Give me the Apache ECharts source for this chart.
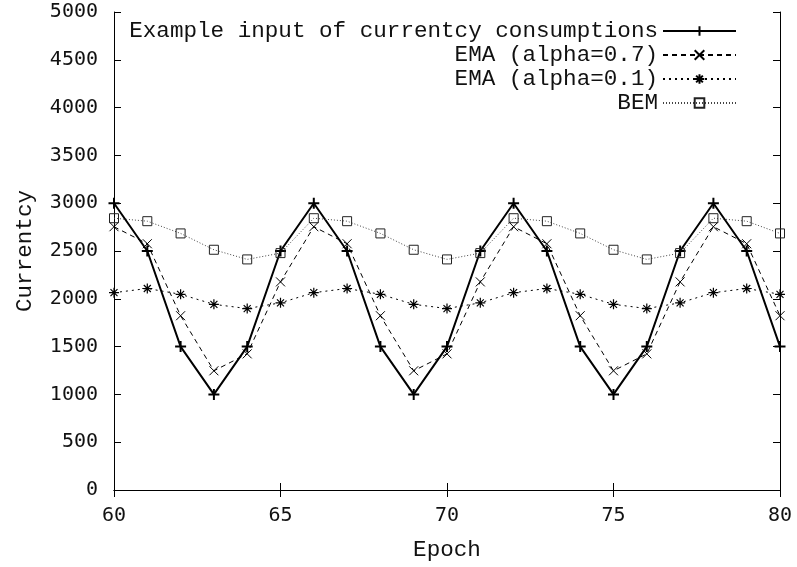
<!DOCTYPE html>
<html>
<head>
<meta charset="utf-8">
<title>Currentcy consumption smoothing</title>
<script src="https://cdn.jsdelivr.net/npm/echarts@6/dist/echarts.min.js"></script>
<style>
  html, body { margin: 0; padding: 0; background: #fff; }
  #chart { width: 797px; height: 567px; }
</style>
</head>
<body>
<div id="chart"></div>
<script>
// Epochs shown on the x axis
const epochs = [60, 61, 62, 63, 64, 65, 66, 67, 68, 69, 70, 71, 72, 73, 74, 75, 76, 77, 78, 79, 80];

// Raw currentcy consumption per epoch
const inputValues = [3000, 2500, 1500, 1000, 1500, 2500, 3000, 2500, 1500, 1000, 1500,
                     2500, 3000, 2500, 1500, 1000, 1500, 2500, 3000, 2500, 1500];

// Exponential moving average, alpha = 0.7
const ema07Values = [2754, 2576, 1823, 1247, 1424, 2177, 2754, 2576, 1823, 1247, 1424,
                     2177, 2754, 2576, 1823, 1247, 1424, 2177, 2754, 2576, 1823];

// Exponential moving average, alpha = 0.1
const ema01Values = [2064, 2108, 2047, 1942, 1898, 1958, 2064, 2108, 2047, 1942, 1898,
                     1958, 2064, 2108, 2047, 1942, 1898, 1958, 2064, 2108, 2047];

// BEM estimate
const bemValues = [2843, 2812, 2684, 2513, 2412, 2478, 2843, 2812, 2684, 2513, 2412,
                   2478, 2843, 2812, 2684, 2513, 2412, 2478, 2843, 2812, 2684];

const seriesNames = [
  'Example input of currentcy consumptions',
  'EMA (alpha=0.7)',
  'EMA (alpha=0.1)',
  'BEM'
];

const monoFont = '"Liberation Mono", "Courier New", monospace';
const tickFont = '"DejaVu Sans Mono", monospace';

// Stroked point glyphs
const SYM_PLUS = 'path://M0,5L10,5M5,0L5,10';
const SYM_CROSS = 'path://M0,0L10,10M10,0L0,10';
const SYM_STAR = 'path://M0,5L10,5M5,0L5,10M1.5,1.5L8.5,8.5M8.5,1.5L1.5,8.5';
const SYM_SQUARE = 'path://M0,0L10,0L10,10L0,10Z';

function pairs(values) {
  return epochs.map((e, i) => [e, values[i]]);
}

function lineSeries(name, values, symbol, size, lineStyle, markColor, markWidth) {
  return {
    name: name,
    type: 'line',
    data: pairs(values),
    symbol: symbol,
    symbolSize: size,
    showAllSymbol: true,
    animation: false,
    lineStyle: lineStyle,
    itemStyle: {
      color: 'rgba(0,0,0,0)',
      borderColor: markColor,
      borderWidth: markWidth
    },
    emphasis: { disabled: true }
  };
}

const axisCommon = {
  type: 'value',
  axisLine: { show: true, lineStyle: { color: '#000', width: 1 } },
  axisTick: { show: true, inside: true, length: 7, lineStyle: { color: '#000', width: 1 } },
  splitLine: { show: false }
};

const plainNumber = v => String(v);

const chart = echarts.init(document.getElementById('chart'), null, { renderer: 'canvas' });

chart.setOption({
  backgroundColor: '#fff',
  animation: false,
  grid: { left: 114, right: 17, top: 12, bottom: 76, containLabel: false },
  legend: {
    data: seriesNames,
    orient: 'vertical',
    align: 'right',
    right: 60,
    top: 19,
    padding: 0,
    itemWidth: 73,
    itemHeight: 12,
    itemGap: 0,
    selectedMode: false,
    textStyle: { fontFamily: monoFont, fontSize: 22.6, color: '#111', lineHeight: 24 }
  },
  xAxis: [
    Object.assign({}, axisCommon, {
      min: 60, max: 80, interval: 5,
      position: 'bottom',
      name: 'Epoch',
      nameLocation: 'middle',
      nameGap: 49,
      nameTextStyle: { fontFamily: monoFont, fontSize: 22.6, color: '#111' },
      axisLabel: { show: true, margin: 16, fontFamily: tickFont, fontSize: 20, color: '#111', formatter: plainNumber }
    }),
    Object.assign({}, axisCommon, {
      min: 60, max: 80, interval: 5,
      position: 'top',
      axisLabel: { show: false }
    })
  ],
  yAxis: [
    Object.assign({}, axisCommon, {
      min: 0, max: 5000, interval: 500,
      position: 'left',
      name: 'Currentcy',
      nameLocation: 'middle',
      nameGap: 77,
      nameRotate: 90,
      nameTextStyle: { fontFamily: monoFont, fontSize: 22.6, color: '#111' },
      axisLabel: { show: true, margin: 16, fontFamily: tickFont, fontSize: 20, color: '#111', formatter: plainNumber }
    }),
    Object.assign({}, axisCommon, {
      min: 0, max: 5000, interval: 500,
      position: 'right',
      axisLabel: { show: false }
    })
  ],
  series: [
    lineSeries(seriesNames[0], inputValues, SYM_PLUS, 11,
      { color: '#000', width: 2, type: 'solid' }, '#000', 2),
    lineSeries(seriesNames[1], ema07Values, SYM_CROSS, 9,
      { color: '#000', width: 1, type: [5, 4] }, '#000', 1),
    lineSeries(seriesNames[2], ema01Values, SYM_STAR, 10,
      { color: '#000', width: 1, type: [2, 4] }, '#000', 1.2),
    lineSeries(seriesNames[3], bemValues, SYM_SQUARE, 9,
      { color: '#444', width: 1, type: [1, 2] }, '#222', 1)
  ]
});
</script>
</body>
</html>
